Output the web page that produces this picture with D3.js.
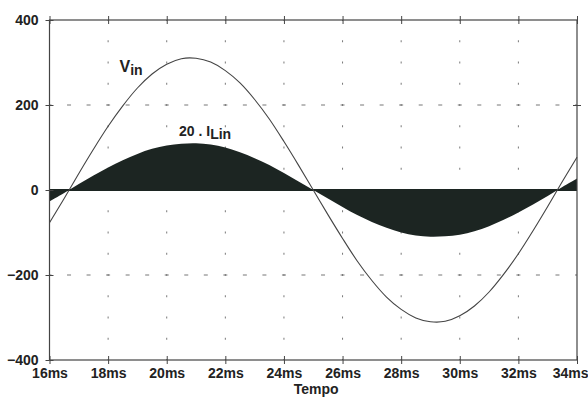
<!DOCTYPE html>
<html>
<head>
<meta charset="utf-8">
<script src="https://cdn.jsdelivr.net/npm/d3@7"></script>
<style>
  body { margin: 0; background: #fff; }
  text, tspan { font-family: "Liberation Sans", Arial, sans-serif; font-weight: bold; fill: #222; }
</style>
</head>
<body>
<div id="chart"></div>
<script>
const tempo = [16, 16.5, 17, 17.5, 18, 18.5, 19, 19.5, 20, 20.5, 21, 21.5, 22, 22.5, 23, 23.5, 24, 24.5, 25,
  25.5, 26, 26.5, 27, 27.5, 28, 28.5, 29, 29.5, 30, 30.5, 31, 31.5, 32, 32.5, 33, 33.5, 34];
const vin = [-77, -20, 39, 96, 150, 198, 240, 273, 296, 309, 310, 301, 281, 252, 213, 167, 114, 58, 0,
  -58, -114, -167, -213, -252, -281, -301, -310, -309, -296, -273, -240, -198, -150, -96, -39, 20, 77];
const iLin20 = [-27, -7, 14, 34, 53, 70, 85, 97, 105, 109, 110, 107, 100, 89, 75, 59, 40, 20, 0,
  -20, -40, -59, -75, -89, -100, -107, -110, -109, -105, -97, -85, -70, -53, -34, -14, 7, 27];
const xTicks = [16, 18, 20, 22, 24, 26, 28, 30, 32, 34];
const yTicks = [400, 200, 0, -200, -400];

const margin = { top: 20, right: 11, bottom: 38, left: 49.5 },
  width = 588 - margin.left - margin.right,
  height = 398 - margin.top - margin.bottom;

const svg = d3.select("#chart")
  .append("svg")
    .attr("width", 588)
    .attr("height", 398)
  .append("g")
    .attr("transform", "translate(" + margin.left + "," + margin.top + ")");

let x = d3.scaleLinear().domain([16, 34]).range([0, width]);
let y = d3.scaleLinear().domain([-400, 400]).range([height, 0]);

let data = tempo.map(function (t, i) { return { t: t, v: vin[i], c: iLin20[i] }; });

// grid dash spacing follows the tick spacing
let stepX = (x(18) - x(16)) / 3;
let stepY = (y(0) - y(200)) / 4;

// vertical dotted grid
svg.selectAll(".vgrid")
  .data(xTicks.slice(1, -1))
  .enter().append("line")
    .attr("class", "vgrid")
    .attr("x1", function (d) { return x(d); })
    .attr("x2", function (d) { return x(d); })
    .attr("y1", 0)
    .attr("y2", height)
    .attr("stroke", "#777")
    .attr("stroke-width", 1)
    .attr("stroke-dasharray", "2," + (stepY - 2))
    .attr("stroke-dashoffset", 1);

// horizontal dashed grid
svg.selectAll(".hgrid")
  .data([200, -200])
  .enter().append("line")
    .attr("class", "hgrid")
    .attr("x1", 0)
    .attr("x2", width)
    .attr("y1", function (d) { return y(d); })
    .attr("y2", function (d) { return y(d); })
    .attr("stroke", "#777")
    .attr("stroke-width", 1)
    .attr("stroke-dasharray", "4," + (stepX - 4))
    .attr("stroke-dashoffset", 2);

// current area (20 . I_Lin)
svg.append("path")
  .datum(data)
  .attr("fill", "#1c2522")
  .attr("d", d3.area()
    .curve(d3.curveCardinal)
    .x(function (d) { return x(d.t); })
    .y0(y(0))
    .y1(function (d) { return y(d.c); }));

// zero line
svg.append("line")
  .attr("x1", 0).attr("x2", width)
  .attr("y1", y(0)).attr("y2", y(0))
  .attr("stroke", "#1c2522")
  .attr("stroke-width", 2);

// Vin line
svg.append("path")
  .datum(data)
  .attr("fill", "none")
  .attr("stroke", "#444")
  .attr("stroke-width", 1.1)
  .attr("d", d3.line()
    .curve(d3.curveCardinal)
    .x(function (d) { return x(d.t); })
    .y(function (d) { return y(d.v); }));

// frame
svg.append("rect")
  .attr("width", width)
  .attr("height", height)
  .attr("fill", "none")
  .attr("stroke", "#444")
  .attr("stroke-width", 1.2);

// axes
let xAxisB = d3.axisBottom(x).tickValues(xTicks).tickSizeInner(4).tickSizeOuter(0)
  .tickFormat(function (d) { return d + "ms"; });
svg.append("g")
  .attr("class", "x axis bottom")
  .attr("transform", "translate(0," + height + ")")
  .call(xAxisB);

let xAxisT = d3.axisTop(x).tickValues(xTicks).tickSizeInner(4).tickSizeOuter(0).tickFormat("");
svg.append("g")
  .attr("class", "x axis")
  .call(xAxisT);

let yAxis = d3.axisLeft(y).tickValues(yTicks).tickSizeInner(4).tickSizeOuter(0);
svg.append("g")
  .attr("class", "y axis")
  .call(yAxis);

let yAxisR = d3.axisRight(y).tickValues([200]).tickSizeInner(4).tickSizeOuter(0).tickFormat("");
svg.append("g")
  .attr("class", "y axis")
  .attr("transform", "translate(" + width + ",0)")
  .call(yAxisR);

// inward tick parts
svg.selectAll(".x.axis .tick line").clone().attr("y2", function () { return -d3.select(this).attr("y2"); });
svg.selectAll(".y.axis .tick line").clone().attr("x2", function () { return -d3.select(this).attr("x2"); });

svg.selectAll(".axis path").remove();
svg.selectAll(".axis line").attr("stroke", "#444");
svg.selectAll(".axis text")
  .style("font-size", "14px")
  .style("font-family", "Liberation Sans, Arial, sans-serif")
  .style("font-weight", "bold")
  .attr("fill", "#222");
svg.selectAll(".x.axis text").attr("dy", "0.78em");
svg.selectAll(".y.axis text").attr("x", -11);
// last label pulled in so it stays on the page
svg.selectAll(".x.axis.bottom .tick text")
  .filter(function (d) { return d === 34; })
  .attr("text-anchor", "end")
  .attr("x", 588 - margin.left - width);

// axis title
svg.append("text")
  .attr("x", x(25) + 3)
  .attr("y", height + 34)
  .attr("text-anchor", "middle")
  .style("font-size", "14px")
  .text("Tempo");

// series labels
let lv = svg.append("text")
  .attr("x", 70)
  .attr("y", 52);
lv.append("tspan").style("font-size", "16px").text("V");
lv.append("tspan").attr("dy", 3).style("font-size", "14px").text("in");

let li = svg.append("text")
  .attr("x", 129.5)
  .attr("y", 116);
li.append("tspan").style("font-size", "14px").text("20 . I");
li.append("tspan").attr("dy", 3).style("font-size", "14px").text("Lin");
</script>
</body>
</html>
